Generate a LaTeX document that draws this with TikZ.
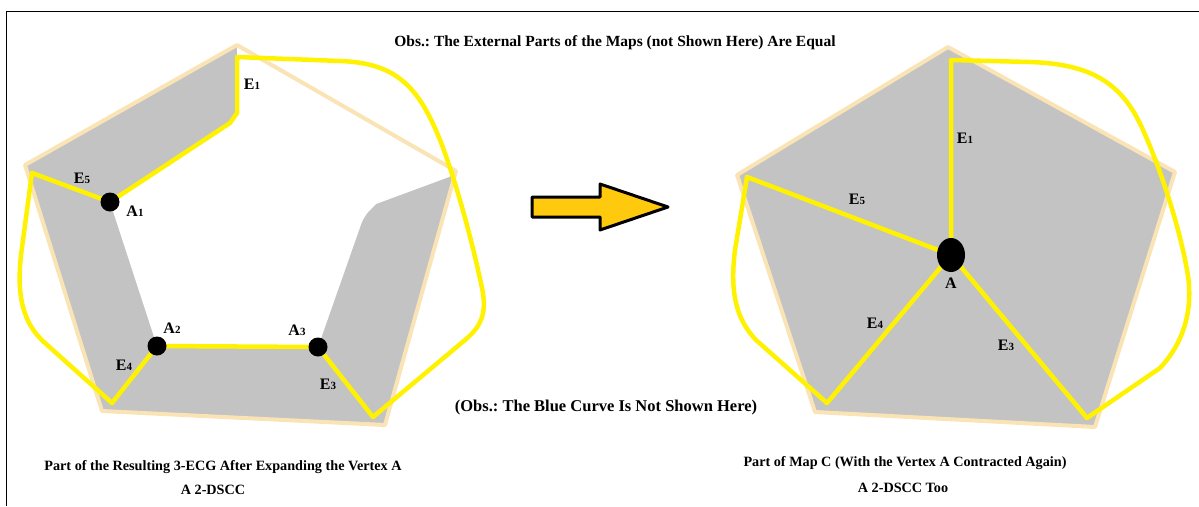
\documentclass[tikz,border=0pt]{standalone}
\usepackage{fontspec}
\setmainfont{Liberation Serif}
\definecolor{gfill}{RGB}{195,195,195}
\definecolor{ylw}{RGB}{255,242,0}
\definecolor{pentb}{RGB}{250,228,182}
\definecolor{arrowfill}{RGB}{255,201,14}
\newcommand{\sbd}[1]{{\fontsize{11}{11}\selectfont #1}}
\tikzset{
  border/.style={draw=pentb, line width=4pt, line join=round},
  yedge/.style={draw=ylw, line width=4.5pt, line join=round, line cap=round},
  dot/.style={circle, fill=black, minimum size=19pt, inner sep=0pt},
  bigdot/.style={ellipse, fill=black, minimum width=28pt, minimum height=34pt, inner sep=0pt},
  lbl/.style={font=\fontsize{16}{16}\selectfont\bfseries, inner sep=0pt},
  caption/.style={font=\fontsize{14.2}{16}\selectfont\bfseries, inner sep=0pt},
  obs/.style={font=\fontsize{15.5}{16}\selectfont\bfseries, inner sep=0pt},
  obsb/.style={font=\fontsize{16.5}{17}\selectfont\bfseries, inner sep=0pt}
}
\usetikzlibrary{shapes.geometric}
\begin{document}
\frenchspacing
\begin{tikzpicture}[x=1pt,y=-1pt]
\useasboundingbox (0,0) rectangle (1199,506);
% frame
\draw[line width=1pt] (6.5,506) -- (6.5,11.5) -- (1199,11.5);

% ---------- left figure ----------
\coordinate (LT) at (237,45);
\coordinate (LL) at (25,165);
\coordinate (LBL) at (102,411);
\coordinate (LBR) at (385,425);
\coordinate (LR) at (456,171);
\coordinate (A1) at (110,202);
\coordinate (A2) at (157,346);
\coordinate (A3) at (318,347);
\coordinate (L5) at (32,173);
\coordinate (L4) at (112,403);
\coordinate (L3) at (373,417);
\coordinate (L1) at (237,57);
\fill[gfill] (LT) -- (LL) -- (LBL) -- (LBR) -- (LR) -- cycle;
\fill[white] (237,47) -- (LR) -- (449,177) -- (376,204) [rounded corners=8pt] -- (364,216) [sharp corners] -- (A3) -- (A2) -- (A1) -- (230,123) -- (237,113) -- cycle;
\draw[border] (LT) -- (LL) -- (LBL) -- (LBR) -- (LR) -- cycle;
% yellow edges
\draw[yedge] (L5) -- (A1);
\draw[yedge] (A1) -- (230,123) -- (237,113) -- (L1) -- (340,61)
  .. controls (395,63) and (418,85) .. (440,140)
  .. controls (455,178) and (472,240) .. (482,288)
  .. controls (487,312) and (482,326) .. (465,340) -- (L3);
\draw[yedge] (L3) -- (A3);
\draw[yedge] (A3) -- (A2);
\draw[yedge] (A2) -- (L4);
\draw[yedge] (L5) -- (21,255) .. controls (17,292) and (21,322) .. (45,343) -- (L4);
\node[dot] (dA1) at (A1) {};
\node[dot] (dA2) at (A2) {};
\node[dot] (dA3) at (A3) {};
\node[lbl] (lE1) at (252,84) {E\sbd{1}};
\node[lbl] (lE5) at (82,178) {E\sbd{5}};
\node[lbl] (lA1) at (135,211) {A\sbd{1}};
\node[lbl] (lA2) at (172,328) {A\sbd{2}};
\node[lbl] (lA3) at (297,330) {A\sbd{3}};
\node[lbl] (lE4) at (124,365) {E\sbd{4}};
\node[lbl] (lE3) at (328,384) {E\sbd{3}};

% ---------- right figure ----------
\coordinate (RT) at (948,47);
\coordinate (RL) at (737,175);
\coordinate (RBL) at (815,412);
\coordinate (RBR) at (1095,427);
\coordinate (RR) at (1175,172);
\coordinate (A) at (951,255);
\coordinate (R1) at (951,60);
\coordinate (R5) at (747,177);
\coordinate (R4) at (827,403);
\coordinate (R3) at (1087,418);
\fill[gfill] (RT) -- (RL) -- (RBL) -- (RBR) -- (RR) -- cycle;
\draw[border] (RT) -- (RL) -- (RBL) -- (RBR) -- (RR) -- cycle;
\draw[yedge] (A) -- (R1) -- (1030,62)
  .. controls (1090,64) and (1122,82) .. (1143,130)
  .. controls (1162,172) and (1180,230) .. (1187,270)
  .. controls (1193,302) and (1188,338) .. (1160,368) -- (R3);
\draw[yedge] (R3) -- (A);
\draw[yedge] (A) -- (R5);
\draw[yedge] (A) -- (R4);
\draw[yedge] (R5) -- (735,250) .. controls (730,290) and (735,318) .. (756,340) -- (R4);
\node[bigdot] (dA) at (A) {};
\node[lbl] (rE1) at (965,138) {E\sbd{1}};
\node[lbl] (rE5) at (857,199) {E\sbd{5}};
\node[lbl] (rA) at (951,283) {A};
\node[lbl] (rE4) at (875,323) {E\sbd{4}};
\node[lbl] (rE3) at (1006,345) {E\sbd{3}};

% ---------- arrow ----------
\draw[fill=arrowfill, line width=3pt, line join=round]
  (532,197) -- (600,197) -- (600,184) -- (668,207) -- (600,230) -- (600,217) -- (532,217) -- cycle;

% ---------- texts ----------
\node[obs] (obs1) at (615,43) {Obs.: The External Parts of the Maps (not Shown Here) Are Equal};
\node[obsb] (obs2) at (606,408) {(Obs.: The Blue Curve Is Not Shown Here)};
\node[caption] (capL1) at (223,467) {Part of the Resulting 3-ECG After Expanding the Vertex A};
\node[caption] (capL2) at (213,490) {A 2-DSCC};
\node[caption] (capR1) at (905,463) {Part of Map C (With the Vertex A Contracted Again)};
\node[caption] (capR2) at (903,488) {A 2-DSCC Too};
\end{tikzpicture}
\end{document}
